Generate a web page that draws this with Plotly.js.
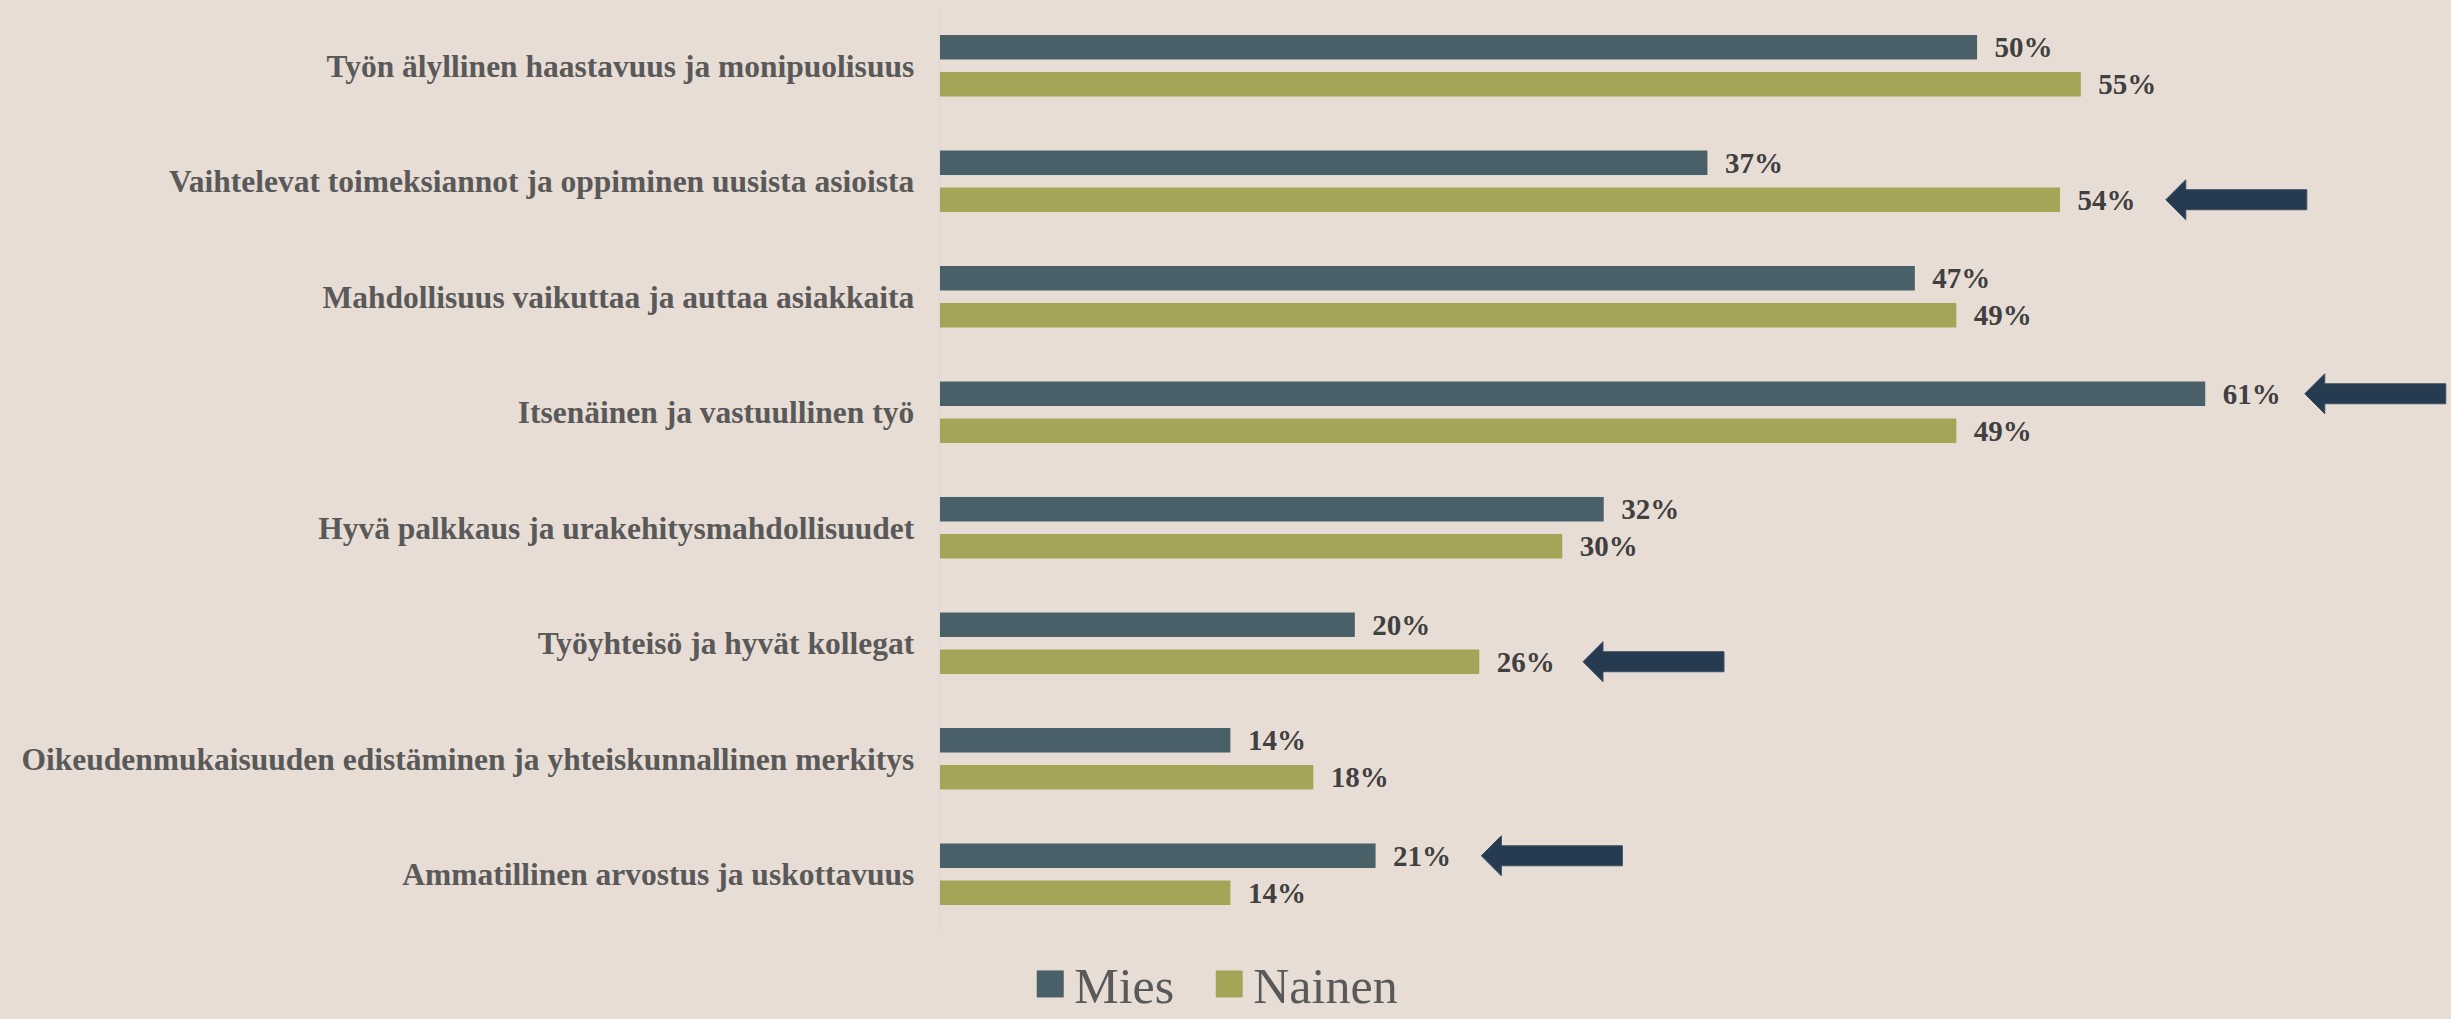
<!DOCTYPE html>
<html>
<head>
<meta charset="utf-8">
<script src="https://cdn.plot.ly/plotly-3.0.1.min.js"></script>
<style>
  html, body { margin: 0; padding: 0; background: #E8DDD5; }
  #chart { width: 2451px; height: 1019px; }
</style>
</head>
<body>
<div id="chart"></div>
<script>
// ---- data ----
const categories = [
  "Työn älyllinen haastavuus ja monipuolisuus",
  "Vaihtelevat toimeksiannot ja oppiminen uusista asioista",
  "Mahdollisuus vaikuttaa ja auttaa asiakkaita",
  "Itsenäinen ja vastuullinen työ",
  "Hyvä palkkaus ja urakehitysmahdollisuudet",
  "Työyhteisö ja hyvät kollegat",
  "Oikeudenmukaisuuden edistäminen ja yhteiskunnallinen merkitys",
  "Ammatillinen arvostus ja uskottavuus"
];
const miesValues   = [50, 37, 47, 61, 32, 20, 14, 21];
const nainenValues = [55, 54, 49, 49, 30, 26, 18, 14];
const seriesNames  = ["Mies", "Nainen"];
// highlight arrows: category index, series, value where the arrow tip points
const arrowCategory = [1, 3, 5, 7];
const arrowSeries   = ["Nainen", "Mies", "Nainen", "Mies"];
const arrowTipValue = [59.1, 65.8, 31.0, 26.1];

// ---- style ----
const BG = "#E8DDD5";
const MIES_COLOR = "#4A6068";
const NAINEN_COLOR = "#A5A558";
const ARROW_COLOR = "#263A50";
const FONT = "'Liberation Serif', 'Times New Roman', serif";
const BARGAP = 0.36;

function barTrace(name, values, color) {
  return {
    type: "bar",
    orientation: "h",
    name: name,
    y: categories,
    x: values,
    marker: { color: color },
    texttemplate: "\u2002%{x}%",
    textposition: "outside",
    constraintext: "none",
    cliponaxis: false,
    textfont: { family: FONT, size: 29, color: "#404040", weight: "bold" },
    hoverinfo: "skip"
  };
}

const traces = [
  barTrace(seriesNames[0], miesValues, MIES_COLOR),
  barTrace(seriesNames[1], nainenValues, NAINEN_COLOR)
];

// arrow shapes anchored on data positions, sized in pixels
const slotOffset = (1 - BARGAP) / 4;
const arrowPath = "M0,0 L20,20 L20,10 L141,10 L141,-10 L20,-10 L20,-20 Z";
const shapes = arrowCategory.map((c, i) => ({
  type: "path",
  xref: "x", yref: "y",
  xsizemode: "pixel", ysizemode: "pixel",
  xanchor: arrowTipValue[i],
  yanchor: c + (arrowSeries[i] === seriesNames[0] ? -slotOffset : slotOffset),
  path: arrowPath,
  fillcolor: ARROW_COLOR,
  line: { color: "#3A4E63", width: 1 },
  layer: "above"
}));

const layout = {
  width: 2451,
  height: 1019,
  paper_bgcolor: BG,
  plot_bgcolor: BG,
  margin: { l: 940, r: 0, t: 8, b: 87 },
  barmode: "group",
  bargap: BARGAP,
  bargroupgap: 0.34,
  showlegend: true,
  hovermode: false,
  xaxis: {
    range: [0, 72.85],
    visible: false,
    fixedrange: true
  },
  yaxis: {
    type: "category",
    autorange: "reversed",
    showline: true,
    linecolor: "#D9D9D9",
    linewidth: 1.5,
    showgrid: false,
    zeroline: false,
    ticks: "",
    ticklabelstandoff: 18,
    tickfont: { family: FONT, size: 31.5, color: "#595959", weight: "bold" },
    fixedrange: true
  },
  legend: {
    orientation: "h",
    xref: "container",
    yref: "container",
    x: 0.495,
    xanchor: "center",
    y: 0.0344,
    yanchor: "middle",
    entrywidth: 134,
    entrywidthmode: "pixels",
    font: { family: FONT, size: 50, color: "#595959" },
    bgcolor: "rgba(0,0,0,0)",
    itemclick: false,
    itemdoubleclick: false
  },
  shapes: shapes
};

Plotly.newPlot("chart", traces, layout, { displayModeBar: false, staticPlot: true }).then(function () {
  document.querySelectorAll(".legend .legendpoints path").forEach(function (p) {
    p.setAttribute("transform", "translate(16,0) scale(2.25)");
  });
  document.querySelectorAll(".legend [clip-path]").forEach(function (el) {
    el.removeAttribute("clip-path");
  });
});
</script>
</body>
</html>
